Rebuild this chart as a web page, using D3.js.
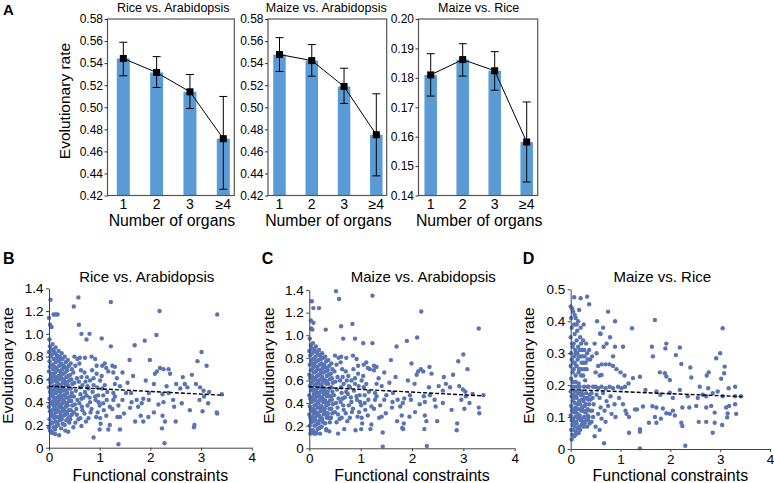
<!DOCTYPE html>
<html><head><meta charset="utf-8">
<script src="https://cdn.jsdelivr.net/npm/d3@7"></script>
<style>body{margin:0;background:#fff}svg{display:block;font-family:"Liberation Sans",Arial,sans-serif}</style>
</head><body><svg id="c" width="774" height="483"></svg>
<script>
// ---------- Panel A data ----------
const organCats = ["1","2","3","≥4"];
const riceAraMean = [0.5442,0.5315,0.5140,0.4715];
const riceAraLo   = [0.5285,0.5179,0.4989,0.4257];
const riceAraHi   = [0.5589,0.5459,0.5297,0.5098];
const maizeAraMean = [0.5478,0.5423,0.5188,0.4751];
const maizeAraLo   = [0.5324,0.5282,0.5034,0.4378];
const maizeAraHi   = [0.5631,0.5568,0.5354,0.5122];
const maizeRiceMean = [0.1810,0.1862,0.1824,0.1582];
const maizeRiceLo   = [0.1738,0.1806,0.1758,0.1446];
const maizeRiceHi   = [0.1882,0.1916,0.1889,0.1718];
const ticksA1 = [0.42,0.44,0.46,0.48,0.50,0.52,0.54,0.56,0.58];
const ticksA3 = [0.14,0.15,0.16,0.17,0.18,0.19,0.20];

// ---------- Panels B-D data ----------
const xTicksFC = [0,1,2,3,4];
const yTicksBC = [0,0.2,0.4,0.6,0.8,1.0,1.2,1.4];
const yTicksD = [0,0.1,0.2,0.3,0.4,0.5];
const fitB = [0.540,-0.0230,3.44]; // intercept, slope, x end
const fitC = [0.545,-0.0240,3.39];
const fitD = [0.186,-0.0064,3.44];

const pointsB = [
[0.03,1.30],[0.58,1.32],[1.22,1.28],[0.49,1.24],[0.09,1.17],[0.17,1.17],[0.13,1.17],[0.00,1.14],[0.02,1.08],[0.05,1.06],[0.59,1.08],[0.64,1.00],[0.80,1.00],[1.04,0.96],[1.22,0.89],[0.74,0.95],[1.69,0.90],[1.89,0.94],[2.12,0.99],[2.18,1.20],[3.32,1.17],[3.01,0.84],[2.93,0.76],[3.11,0.72],[1.99,0.77],[1.59,0.77],[2.19,0.70],[2.26,0.69],[2.36,0.69],[2.39,0.65],[2.09,0.65],[2.13,0.67],[1.66,0.63],[2.64,0.62],[2.82,0.64],[2.68,0.56],[2.90,0.56],[2.51,0.56],[2.32,0.54],[2.07,0.56],[1.91,0.59],[2.59,0.52],[2.73,0.53],[2.98,0.53],[3.05,0.50],[3.16,0.49],[3.41,0.47],[3.06,0.45],[2.97,0.42],[3.14,0.39],[3.03,0.32],[3.31,0.31],[3.32,0.30],[2.78,0.33],[2.45,0.42],[2.62,0.39],[2.47,0.36],[2.16,0.38],[2.26,0.40],[2.36,0.48],[2.24,0.47],[1.97,0.48],[1.97,0.42],[1.86,0.43],[1.83,0.39],[1.73,0.42],[1.63,0.40],[1.62,0.48],[1.52,0.48],[1.76,0.36],[1.81,0.28],[1.70,0.23],[1.86,0.23],[1.96,0.27],[2.07,0.31],[2.24,0.28],[2.29,0.23],[2.23,0.17],[2.50,0.23],[2.86,0.18],[2.87,0.20],[2.28,0.04],[1.37,0.03],[1.40,0.16],[1.35,0.27],[1.40,0.27],[1.17,0.16],[1.20,0.20],[1.01,0.26],[1.02,0.21],[1.13,0.28],[0.88,0.09],[0.64,0.19],[0.48,0.18],[0.93,0.27],[0.84,0.34],[1.20,0.36],[1.27,0.42],[1.37,0.37],[1.07,0.39],[1.00,0.37],[1.14,0.42],[1.27,0.48],[1.07,0.46],[0.97,0.46],[0.91,0.45],[0.81,0.40],[1.40,0.54],[1.30,0.56],[1.34,0.61],[1.27,0.66],[1.17,0.67],[1.13,0.70],[1.01,0.59],[1.04,0.63],[0.94,0.65],[0.88,0.61],[0.81,0.59],[0.76,0.54],[0.94,0.72],[0.91,0.78],[0.84,0.80],[0.71,0.79],[0.56,0.78],[0.61,0.79],[0.64,0.62],[0.61,0.53],[0.71,0.49],[0.64,0.43],[0.66,0.33],[0.55,0.29],[0.41,0.27],[0.38,0.14],[0.32,0.15],[0.20,0.11],[0.12,0.12],[0.05,0.14],
[0.01,0.95],[0.02,0.89],[0.00,0.84],[0.03,0.80],[0.01,0.76],[0.02,0.71],[0.00,0.67],[0.04,0.64],[0.01,0.60],[0.03,0.57],[0.00,0.53],[0.02,0.49],[0.04,0.46],[0.01,0.43],[0.03,0.39],[0.00,0.36],[0.02,0.32],[0.04,0.28],[0.01,0.25],[0.03,0.21],[0.00,0.18],[0.02,0.15],
[0.07,0.91],[0.08,0.86],[0.06,0.82],[0.09,0.78],[0.07,0.73],[0.08,0.69],[0.06,0.65],[0.10,0.61],[0.07,0.58],[0.09,0.54],[0.06,0.50],[0.08,0.47],[0.10,0.44],[0.07,0.40],[0.09,0.37],[0.06,0.33],[0.08,0.29],[0.10,0.26],[0.07,0.22],[0.09,0.18],[0.06,0.13],
[0.13,0.88],[0.12,0.83],[0.15,0.79],[0.13,0.75],[0.14,0.70],[0.12,0.66],[0.16,0.62],[0.13,0.59],[0.15,0.55],[0.12,0.51],[0.14,0.48],[0.16,0.44],[0.13,0.41],[0.15,0.38],[0.12,0.34],[0.14,0.31],[0.16,0.27],[0.13,0.23],[0.15,0.19],[0.12,0.16],
[0.19,0.85],[0.21,0.80],[0.18,0.76],[0.20,0.72],[0.22,0.67],[0.19,0.63],[0.21,0.60],[0.18,0.56],[0.20,0.52],[0.22,0.49],[0.19,0.45],[0.21,0.42],[0.18,0.38],[0.20,0.35],[0.22,0.31],[0.19,0.27],[0.21,0.24],[0.18,0.20],
[0.25,0.83],[0.27,0.78],[0.24,0.74],[0.26,0.69],[0.28,0.65],[0.25,0.61],[0.27,0.57],[0.24,0.54],[0.26,0.50],[0.28,0.46],[0.25,0.43],[0.27,0.39],[0.24,0.36],[0.26,0.32],[0.28,0.28],[0.25,0.25],[0.27,0.21],[0.24,0.17],
[0.31,0.80],[0.33,0.75],[0.30,0.71],[0.32,0.66],[0.34,0.62],[0.31,0.58],[0.33,0.55],[0.30,0.51],[0.32,0.47],[0.34,0.44],[0.31,0.40],[0.33,0.36],[0.30,0.33],[0.32,0.29],[0.34,0.24],[0.31,0.20],
[0.37,0.77],[0.39,0.72],[0.36,0.68],[0.38,0.63],[0.40,0.59],[0.37,0.55],[0.39,0.52],[0.36,0.48],[0.38,0.44],[0.40,0.41],[0.37,0.37],[0.39,0.33],[0.36,0.30],[0.38,0.26],[0.40,0.22],
[0.43,0.74],[0.45,0.69],[0.42,0.64],[0.44,0.60],[0.46,0.56],[0.43,0.52],[0.45,0.48],[0.42,0.45],[0.44,0.41],[0.46,0.37],[0.43,0.33],[0.45,0.29],[0.42,0.25],
[0.04,0.86],[0.04,0.73],[0.05,0.61],[0.04,0.52],[0.05,0.40],[0.04,0.31],[0.05,0.22],[0.10,0.84],[0.11,0.71],[0.10,0.63],[0.11,0.52],[0.10,0.42],[0.11,0.35],[0.10,0.28],[0.16,0.81],[0.17,0.68],[0.16,0.58],[0.17,0.50],[0.16,0.40],[0.17,0.33],[0.16,0.22],[0.22,0.78],[0.23,0.64],[0.22,0.55],[0.23,0.46],[0.22,0.38],[0.23,0.28],[0.28,0.72],[0.29,0.60],[0.28,0.52],[0.29,0.42],[0.28,0.34],[0.34,0.70],[0.35,0.57],[0.34,0.50],[0.35,0.39],[0.34,0.31],
[0.50,0.80],[0.52,0.72],[0.48,0.66],[0.55,0.61],[0.50,0.57],[0.53,0.50],[0.49,0.45],[0.56,0.42],[0.51,0.38],[0.54,0.34],[0.49,0.31],[0.58,0.25],[0.52,0.22],[0.60,0.74],[0.63,0.68],[0.59,0.58],[0.66,0.55],[0.62,0.47],[0.68,0.44],[0.60,0.39],[0.65,0.36],[0.70,0.30],[0.62,0.26],[0.73,0.23],[0.70,0.66],[0.75,0.62],[0.72,0.58],[0.78,0.52],[0.74,0.46],[0.80,0.44],[0.76,0.37],[0.82,0.31],[0.78,0.26],[0.85,0.68],[0.88,0.55],[0.86,0.49],[0.92,0.42],[0.95,0.53],[0.98,0.40],[1.05,0.52],[1.10,0.55],[1.15,0.49],[1.08,0.33],[0.96,0.31],[1.25,0.34],[1.30,0.45],[1.45,0.42],[1.55,0.57],[1.60,0.35],[1.48,0.30],[1.05,0.72],[1.10,0.74],[1.25,0.72],[1.30,0.71],[1.45,0.66],[1.00,0.16]
];

const pointsC = [
[0.52,1.39],[0.58,1.32],[1.23,1.35],[0.05,1.30],[0.08,1.24],[0.19,1.24],[0.03,1.13],[0.08,1.11],[0.04,1.06],[0.06,1.05],[0.32,1.05],[0.62,1.08],[0.66,0.97],[0.89,0.97],[0.84,1.10],[1.23,0.93],[1.05,0.93],[1.70,0.90],[1.90,0.95],[2.10,0.98],[2.18,1.21],[3.30,1.06],[3.00,0.83],[2.90,0.77],[3.08,0.70],[1.99,0.75],[1.59,0.78],[2.17,0.70],[2.22,0.68],[2.34,0.72],[2.38,0.66],[2.09,0.65],[2.12,0.68],[1.68,0.63],[2.62,0.63],[2.80,0.65],
[2.66,0.57],[2.92,0.55],[2.52,0.55],[2.33,0.54],[2.05,0.57],[1.92,0.60],[2.60,0.51],[2.74,0.54],[2.99,0.52],[3.04,0.50],[3.18,0.48],[3.39,0.47],[3.05,0.46],[2.96,0.43],[3.12,0.40],[3.02,0.35],[3.30,0.36],[3.31,0.31],[2.77,0.34],[2.44,0.43],[2.60,0.40],[2.46,0.37],[2.15,0.39],[2.25,0.41],[2.35,0.47],[2.23,0.46],[1.96,0.47],[1.98,0.43],[1.85,0.44],[1.82,0.40],[1.72,0.43],[1.62,0.41],[1.63,0.49],[1.50,0.47],[1.77,0.37],[1.80,0.29],[1.71,0.24],[1.84,0.22],[1.95,0.28],[2.06,0.32],[2.25,0.29],[2.28,0.24],[2.24,0.17],[2.49,0.24],[2.87,0.16],[2.88,0.22],[2.29,0.02],[1.43,0.015],[1.43,0.14],[1.36,0.27],[1.41,0.28],[1.19,0.17],[1.21,0.21],[1.02,0.27],[1.03,0.22],[1.14,0.29],[0.90,0.16],[0.68,0.17],[0.56,0.13],[0.94,0.28],[0.85,0.35],[1.21,0.37],[1.28,0.43],[1.38,0.38],[1.08,0.40],[1.01,0.38],[1.15,0.43],[1.28,0.49],[1.08,0.47],[0.98,0.47],[0.92,0.46],[0.82,0.41],[1.41,0.55],[1.31,0.57],[1.35,0.62],[1.26,0.69],[1.18,0.70],[1.14,0.71],[1.02,0.60],[1.05,0.64],[0.95,0.66],[0.89,0.62],[0.82,0.60],[0.77,0.55],[0.95,0.73],[0.92,0.79],[0.85,0.82],[0.72,0.80],[0.57,0.80],[0.62,0.81],[0.65,0.63],[0.62,0.54],[0.72,0.50],[0.65,0.44],[0.67,0.34],[0.56,0.30],[0.42,0.27],[0.39,0.15],[0.33,0.16],[0.21,0.13],[0.13,0.13],[0.06,0.15],[1.83,0.17],[1.81,0.18],
[0.01,0.97],[0.03,0.91],[0.00,0.86],[0.02,0.82],[0.04,0.78],[0.01,0.74],[0.03,0.69],[0.00,0.65],[0.02,0.62],[0.04,0.58],[0.01,0.55],[0.03,0.51],[0.00,0.47],[0.02,0.44],[0.04,0.41],[0.01,0.37],[0.03,0.34],[0.00,0.30],[0.02,0.27],[0.04,0.23],[0.01,0.20],[0.03,0.16],[0.02,0.13],
[0.07,0.93],[0.09,0.88],[0.06,0.84],[0.08,0.79],[0.10,0.75],[0.07,0.71],[0.09,0.67],[0.06,0.63],[0.08,0.60],[0.10,0.56],[0.07,0.52],[0.09,0.48],[0.06,0.45],[0.08,0.42],[0.10,0.38],[0.07,0.35],[0.09,0.31],[0.06,0.28],[0.08,0.24],[0.10,0.20],[0.07,0.16],[0.09,0.13],
[0.13,0.90],[0.15,0.85],[0.12,0.81],[0.14,0.77],[0.16,0.72],[0.13,0.68],[0.15,0.64],[0.12,0.61],[0.14,0.57],[0.16,0.53],[0.13,0.50],[0.15,0.46],[0.12,0.43],[0.14,0.39],[0.16,0.36],[0.13,0.32],[0.15,0.29],[0.12,0.25],[0.14,0.21],[0.16,0.17],[0.13,0.14],
[0.19,0.87],[0.21,0.82],[0.18,0.78],[0.20,0.74],[0.22,0.69],[0.19,0.65],[0.21,0.61],[0.18,0.58],[0.20,0.54],[0.22,0.50],[0.19,0.47],[0.21,0.43],[0.18,0.40],[0.20,0.36],[0.22,0.33],[0.19,0.29],[0.21,0.25],[0.18,0.22],[0.20,0.18],
[0.25,0.84],[0.27,0.80],[0.24,0.75],[0.26,0.71],[0.28,0.67],[0.25,0.63],[0.27,0.59],[0.24,0.56],[0.26,0.52],[0.28,0.48],[0.25,0.45],[0.27,0.41],[0.24,0.37],[0.26,0.34],[0.28,0.30],[0.25,0.26],[0.27,0.23],[0.24,0.19],
[0.31,0.81],[0.33,0.77],[0.30,0.72],[0.32,0.68],[0.34,0.64],[0.31,0.60],[0.33,0.57],[0.30,0.53],[0.32,0.49],[0.34,0.46],[0.31,0.42],[0.33,0.38],[0.30,0.35],[0.32,0.31],[0.34,0.27],[0.31,0.22],[0.33,0.17],
[0.37,0.78],[0.39,0.73],[0.36,0.69],[0.38,0.65],[0.40,0.61],[0.37,0.57],[0.39,0.53],[0.36,0.50],[0.38,0.46],[0.40,0.42],[0.37,0.39],[0.39,0.35],[0.36,0.31],[0.38,0.27],[0.40,0.23],
[0.43,0.75],[0.45,0.70],[0.42,0.66],[0.44,0.62],[0.46,0.58],[0.43,0.54],[0.45,0.50],[0.42,0.46],[0.44,0.43],[0.46,0.39],[0.43,0.35],[0.45,0.31],[0.42,0.27],
[0.04,0.88],[0.05,0.75],[0.04,0.64],[0.05,0.53],[0.04,0.43],[0.05,0.33],[0.04,0.25],[0.11,0.86],[0.10,0.73],[0.11,0.62],[0.10,0.51],[0.11,0.44],[0.10,0.34],[0.11,0.27],[0.17,0.83],[0.16,0.70],[0.17,0.59],[0.16,0.49],[0.17,0.41],[0.16,0.31],[0.17,0.23],[0.23,0.79],[0.22,0.66],[0.23,0.56],[0.22,0.45],[0.23,0.37],[0.22,0.27],[0.29,0.74],[0.28,0.61],[0.29,0.51],[0.28,0.43],[0.29,0.33],[0.35,0.71],[0.34,0.59],[0.35,0.48],[0.34,0.40],[0.35,0.30],
[0.50,0.82],[0.53,0.74],[0.49,0.68],[0.55,0.63],[0.51,0.59],[0.54,0.52],[0.48,0.47],[0.57,0.44],[0.52,0.40],[0.55,0.36],[0.50,0.32],[0.59,0.26],[0.53,0.23],[0.61,0.76],[0.64,0.70],[0.60,0.60],[0.67,0.57],[0.63,0.49],[0.69,0.45],[0.61,0.41],[0.66,0.38],[0.71,0.31],[0.63,0.27],[0.74,0.24],[0.71,0.68],[0.76,0.64],[0.73,0.60],[0.79,0.54],[0.75,0.48],[0.81,0.45],[0.77,0.38],[0.83,0.32],[0.79,0.27],[0.86,0.70],[0.89,0.57],[0.87,0.51],[0.93,0.43],[0.96,0.55],[0.99,0.41],[1.06,0.54],[1.11,0.57],[1.16,0.50],[1.09,0.34],[0.97,0.32],[1.26,0.35],[1.31,0.46],[1.46,0.43],[1.56,0.58],[1.61,0.36],[1.49,0.31],[1.06,0.74],[1.11,0.76],[1.26,0.73],[1.31,0.72],[1.46,0.67],[1.01,0.17]
];

const pointsD = [
[0.00,0.446],[0.07,0.475],[0.20,0.472],[0.33,0.477],[0.37,0.453],[0.17,0.435],[0.75,0.43],[0.53,0.40],[0.89,0.40],[1.23,0.378],[1.69,0.404],[3.05,0.378],[0.65,0.38],[0.59,0.362],[0.79,0.35],[0.89,0.32],[1.05,0.32],[1.63,0.32],[1.92,0.33],[1.90,0.315],[2.19,0.318],[2.11,0.294],[1.65,0.29],[3.00,0.30],[2.92,0.284],[3.09,0.258],[2.40,0.255],[2.73,0.23],[2.77,0.24],[2.22,0.266],[1.79,0.24],[1.89,0.237],[1.92,0.227],[1.99,0.216],[2.42,0.224],[3.08,0.237],[3.02,0.22],[1.39,0.226],[1.25,0.222],[0.62,0.232],[1.50,0.185],[1.72,0.18],[1.99,0.176],[2.19,0.185],[2.59,0.195],[2.76,0.19],[2.95,0.18],[3.17,0.19],[1.09,0.195],[1.16,0.205],[2.65,0.17],[2.72,0.165],[1.80,0.17],[2.05,0.16],[2.35,0.165],[2.55,0.16],[2.85,0.175],[3.05,0.165],[3.30,0.165],[3.42,0.165],[1.45,0.133],[1.64,0.134],[1.72,0.13],[1.85,0.127],[1.92,0.112],[2.05,0.12],[2.24,0.13],[2.38,0.13],[2.52,0.135],[2.72,0.13],[2.82,0.135],[3.12,0.13],[3.18,0.135],[2.89,0.114],[3.15,0.111],[1.29,0.124],[1.33,0.124],[1.12,0.11],[1.17,0.10],[1.69,0.10],[1.81,0.095],[1.99,0.11],[2.09,0.105],[2.22,0.082],[1.72,0.082],[1.57,0.082],[2.57,0.085],[2.72,0.085],[2.89,0.082],[3.04,0.075],[2.85,0.051],[2.24,0.072],[1.39,0.062],[1.39,0.054],[1.17,0.051],[0.67,0.018],[1.39,0.002],[2.30,0.01],[3.14,0.099],[3.30,0.14],[3.32,0.11],[3.30,0.195],
[0.01,0.41],[0.02,0.38],[0.00,0.35],[0.03,0.33],[0.01,0.30],[0.02,0.28],[0.00,0.26],[0.04,0.24],[0.01,0.22],[0.03,0.195],[0.00,0.18],[0.02,0.165],[0.04,0.15],[0.01,0.135],[0.03,0.12],[0.00,0.105],[0.02,0.09],[0.04,0.075],[0.01,0.06],[0.03,0.045],[0.02,0.03],
[0.07,0.39],[0.08,0.36],[0.06,0.33],[0.09,0.31],[0.07,0.29],[0.08,0.27],[0.06,0.25],[0.10,0.23],[0.07,0.195],[0.09,0.18],[0.06,0.16],[0.08,0.145],[0.10,0.13],[0.07,0.115],[0.09,0.10],[0.06,0.085],[0.08,0.07],[0.10,0.055],[0.07,0.04],
[0.13,0.37],[0.12,0.34],[0.15,0.32],[0.13,0.30],[0.14,0.28],[0.12,0.26],[0.16,0.24],[0.13,0.195],[0.15,0.175],[0.12,0.16],[0.14,0.14],[0.16,0.125],[0.13,0.11],[0.15,0.095],[0.12,0.08],[0.14,0.065],[0.16,0.05],
[0.19,0.35],[0.21,0.33],[0.18,0.31],[0.20,0.29],[0.22,0.27],[0.19,0.25],[0.21,0.23],[0.18,0.195],[0.20,0.17],[0.22,0.155],[0.19,0.14],[0.21,0.12],[0.18,0.105],[0.20,0.09],[0.22,0.075],[0.19,0.06],
[0.25,0.34],[0.27,0.31],[0.24,0.29],[0.26,0.27],[0.28,0.25],[0.25,0.23],[0.27,0.195],[0.24,0.17],[0.26,0.15],[0.28,0.135],[0.25,0.12],[0.27,0.10],[0.24,0.085],[0.26,0.07],
[0.31,0.33],[0.33,0.30],[0.30,0.27],[0.32,0.25],[0.34,0.195],[0.31,0.175],[0.33,0.16],[0.30,0.14],[0.32,0.12],[0.34,0.105],[0.31,0.09],[0.33,0.07],
[0.37,0.31],[0.39,0.28],[0.36,0.195],[0.38,0.17],[0.40,0.155],[0.37,0.14],[0.39,0.12],[0.36,0.10],[0.38,0.08],
[0.43,0.29],[0.45,0.195],[0.42,0.175],[0.44,0.16],[0.46,0.14],[0.43,0.12],[0.45,0.10],[0.42,0.085],
[0.04,0.32],[0.05,0.27],[0.04,0.21],[0.05,0.17],[0.04,0.125],[0.05,0.095],[0.04,0.06],[0.10,0.30],[0.11,0.26],[0.10,0.21],[0.11,0.165],[0.10,0.12],[0.11,0.085],[0.10,0.045],[0.16,0.29],[0.17,0.25],[0.16,0.205],[0.17,0.15],[0.16,0.10],[0.17,0.07],[0.22,0.31],[0.23,0.25],[0.22,0.18],[0.23,0.13],[0.22,0.095],[0.28,0.29],[0.29,0.215],[0.28,0.16],[0.29,0.115],[0.28,0.08],[0.34,0.28],[0.35,0.155],[0.34,0.125],[0.35,0.09],
[0.50,0.195],[0.55,0.19],[0.62,0.195],[0.70,0.19],[0.78,0.195],[0.85,0.19],[0.95,0.195],[1.02,0.19],[0.52,0.17],[0.58,0.16],[0.65,0.175],[0.72,0.15],[0.80,0.165],[0.88,0.14],[0.60,0.13],[0.68,0.12],[0.75,0.135],[0.55,0.11],[0.82,0.11],[0.62,0.095],[0.70,0.085],[0.50,0.07],[0.58,0.06],[0.90,0.10],[0.97,0.16],[1.05,0.14],[1.10,0.12],[0.48,0.04],
[0.55,0.26],[0.62,0.265],[0.70,0.265],[0.78,0.265],[0.85,0.26],[0.92,0.25],[1.00,0.24],[1.08,0.23],[0.50,0.24],[0.58,0.23],[0.52,0.30],[0.66,0.32],[0.72,0.33],[0.60,0.36],[0.48,0.33],[0.85,0.29],
[0.03,0.44],[0.05,0.43],[0.10,0.41],[0.15,0.40],[0.20,0.38],[0.12,0.39],[0.26,0.39],[0.08,0.42]
];

// ---------- drawing ----------
const svg = d3.select("#c");
const FONT = '"Liberation Sans", Arial, sans-serif';
function txt(g, x, y, s, size, opts = {}) {
  const t = g.append("text").attr("x", x).attr("y", y).text(s)
    .attr("font-size", size).attr("fill", "#000")
    .attr("text-anchor", opts.anchor || "middle");
  if (opts.weight) t.attr("font-weight", opts.weight);
  if (opts.rotate) t.attr("transform", `rotate(-90,${x},${y})`);
  return t;
}

function barPanel(o) {
  const g = svg.append("g");
  const y = d3.scaleLinear().domain([o.ticks[0], o.ticks[o.ticks.length - 1]]).range([o.B, o.T]);
  const x = d3.scalePoint().domain(organCats).range([o.c0, o.c1]);
  g.selectAll("rect.bar").data(o.mean).join("rect")
    .attr("x", (d, i) => x(organCats[i]) - o.bw / 2).attr("y", d => y(d))
    .attr("width", o.bw).attr("height", d => o.B - y(d)).attr("fill", "#5b9bd5");
  g.append("rect").attr("x", o.L).attr("y", o.T).attr("width", o.R - o.L).attr("height", o.B - o.T)
    .attr("fill", "none").attr("stroke", "#555").attr("stroke-width", 1.2);
  const ax = g.append("g").attr("transform", `translate(${o.L},0)`)
    .call(d3.axisLeft(y).tickValues(o.ticks).tickSize(3).tickPadding(1.5).tickFormat(d3.format(o.fmt)));
  ax.select(".domain").remove();
  ax.attr("font-family", FONT).attr("font-size", 12);
  ax.selectAll("line").attr("stroke", "#333");
  ax.selectAll("text").attr("fill", "#000");
  organCats.forEach(c => txt(g, x(c), 209.3, c, 14));
  o.mean.forEach((m, i) => {
    const cx = x(organCats[i]);
    g.append("line").attr("x1", cx).attr("x2", cx).attr("y1", y(o.lo[i])).attr("y2", y(o.hi[i])).attr("stroke", "#000").attr("stroke-width", 1);
    [o.lo[i], o.hi[i]].forEach(v => g.append("line").attr("x1", cx - 4).attr("x2", cx + 4).attr("y1", y(v)).attr("y2", y(v)).attr("stroke", "#000").attr("stroke-width", 1));
  });
  g.append("path").datum(o.mean)
    .attr("d", d3.line().x((d, i) => x(organCats[i])).y(d => y(d)))
    .attr("fill", "none").attr("stroke", "#000").attr("stroke-width", 1);
  g.selectAll("rect.sq").data(o.mean).join("rect")
    .attr("x", (d, i) => x(organCats[i]) - 3.5).attr("y", d => y(d) - 3.5)
    .attr("width", 7).attr("height", 7).attr("fill", "#000");
  txt(g, o.titleX, 12, o.title, 12.5);
  txt(g, (o.L + o.R) / 2 + 1, 225.7, "Number of organs", 15.8);
}

barPanel({L:107.5,R:234.3,T:19,B:195.5,c0:123.3,c1:223.3,bw:13,ticks:ticksA1,fmt:".2f",
  mean:riceAraMean,lo:riceAraLo,hi:riceAraHi,title:"Rice vs. Arabidopsis",titleX:173.3});
barPanel({L:268,R:386.7,T:19,B:195.5,c0:279.5,c1:376.3,bw:12.5,ticks:ticksA1,fmt:".2f",
  mean:maizeAraMean,lo:maizeAraLo,hi:maizeAraHi,title:"Maize vs. Arabidopsis",titleX:326.3});
barPanel({L:418.5,R:537.7,T:19,B:195.5,c0:430.7,c1:526.7,bw:12.5,ticks:ticksA3,fmt:".2f",
  mean:maizeRiceMean,lo:maizeRiceLo,hi:maizeRiceHi,title:"Maize vs. Rice",titleX:478.7});
txt(svg, 70, 101, "Evolutionary rate", 15.5, {rotate:true});
txt(svg, 3, 15, "A", 15, {anchor:"start", weight:"bold"});

function scatterPanel(o) {
  const g = svg.append("g");
  const x = d3.scaleLinear().domain([0, 4]).range([o.x0, o.x4]);
  const y = d3.scaleLinear().domain([0, o.yTicks[o.yTicks.length - 1]]).range([o.y0, o.yTop]);
  g.selectAll("circle").data(o.pts).join("circle")
    .attr("cx", d => x(d[0])).attr("cy", d => y(d[1])).attr("r", 2.2)
    .attr("fill", "#5874b4");
  const xa = g.append("g").attr("transform", `translate(0,${o.y0})`)
    .call(d3.axisBottom(x).tickValues(xTicksFC).tickSize(3).tickSizeOuter(0).tickPadding(2).tickFormat(d3.format("d")));
  const ya = g.append("g").attr("transform", `translate(${o.x0},0)`)
    .call(d3.axisLeft(y).tickValues(o.yTicks).tickSize(3).tickSizeOuter(0).tickPadding(2.5)
      .tickFormat(d => d === 0 ? "0" : d3.format(".1f")(d)));
  [xa, ya].forEach(a => {
    a.attr("font-family", FONT).attr("font-size", 13.5);
    a.selectAll("line,path").attr("stroke", "#444");
    a.selectAll("text").attr("fill", "#000");
  });
  const f = o.fit;
  g.append("line").attr("x1", x(0)).attr("y1", y(f[0])).attr("x2", x(f[2])).attr("y2", y(f[0] + f[1] * f[2]))
    .attr("stroke", "#000").attr("stroke-width", 1.4).attr("stroke-dasharray", "4,2");
  txt(g, o.titleX, 281.7, o.title, 15);
  txt(g, (o.x0 + o.x4) / 2, 480.7, "Functional constraints", 16);
  txt(g, o.ylabX, 365.5, "Evolutionary rate", 15.5, {rotate:true});
  txt(g, o.letterX, 264, o.letter, 16, {anchor:"start", weight:"bold"});
}

scatterPanel({x0:49,x4:251.7,y0:447.7,yTop:288.3,yTicks:yTicksBC,pts:pointsB,fit:fitB,
  title:"Rice vs. Arabidopsis",titleX:146.7,ylabX:13,letter:"B",letterX:3});
scatterPanel({x0:309.3,x4:514.7,y0:448.3,yTop:290,yTicks:yTicksBC,pts:pointsC,fit:fitC,
  title:"Maize vs. Arabidopsis",titleX:423.3,ylabX:274,letter:"C",letterX:261.7});
scatterPanel({x0:570.7,x4:770,y0:449,yTop:289.3,yTicks:yTicksD,pts:pointsD,fit:fitD,
  title:"Maize vs. Rice",titleX:662.3,ylabX:534,letter:"D",letterX:522.7});
</script>
</body></html>
